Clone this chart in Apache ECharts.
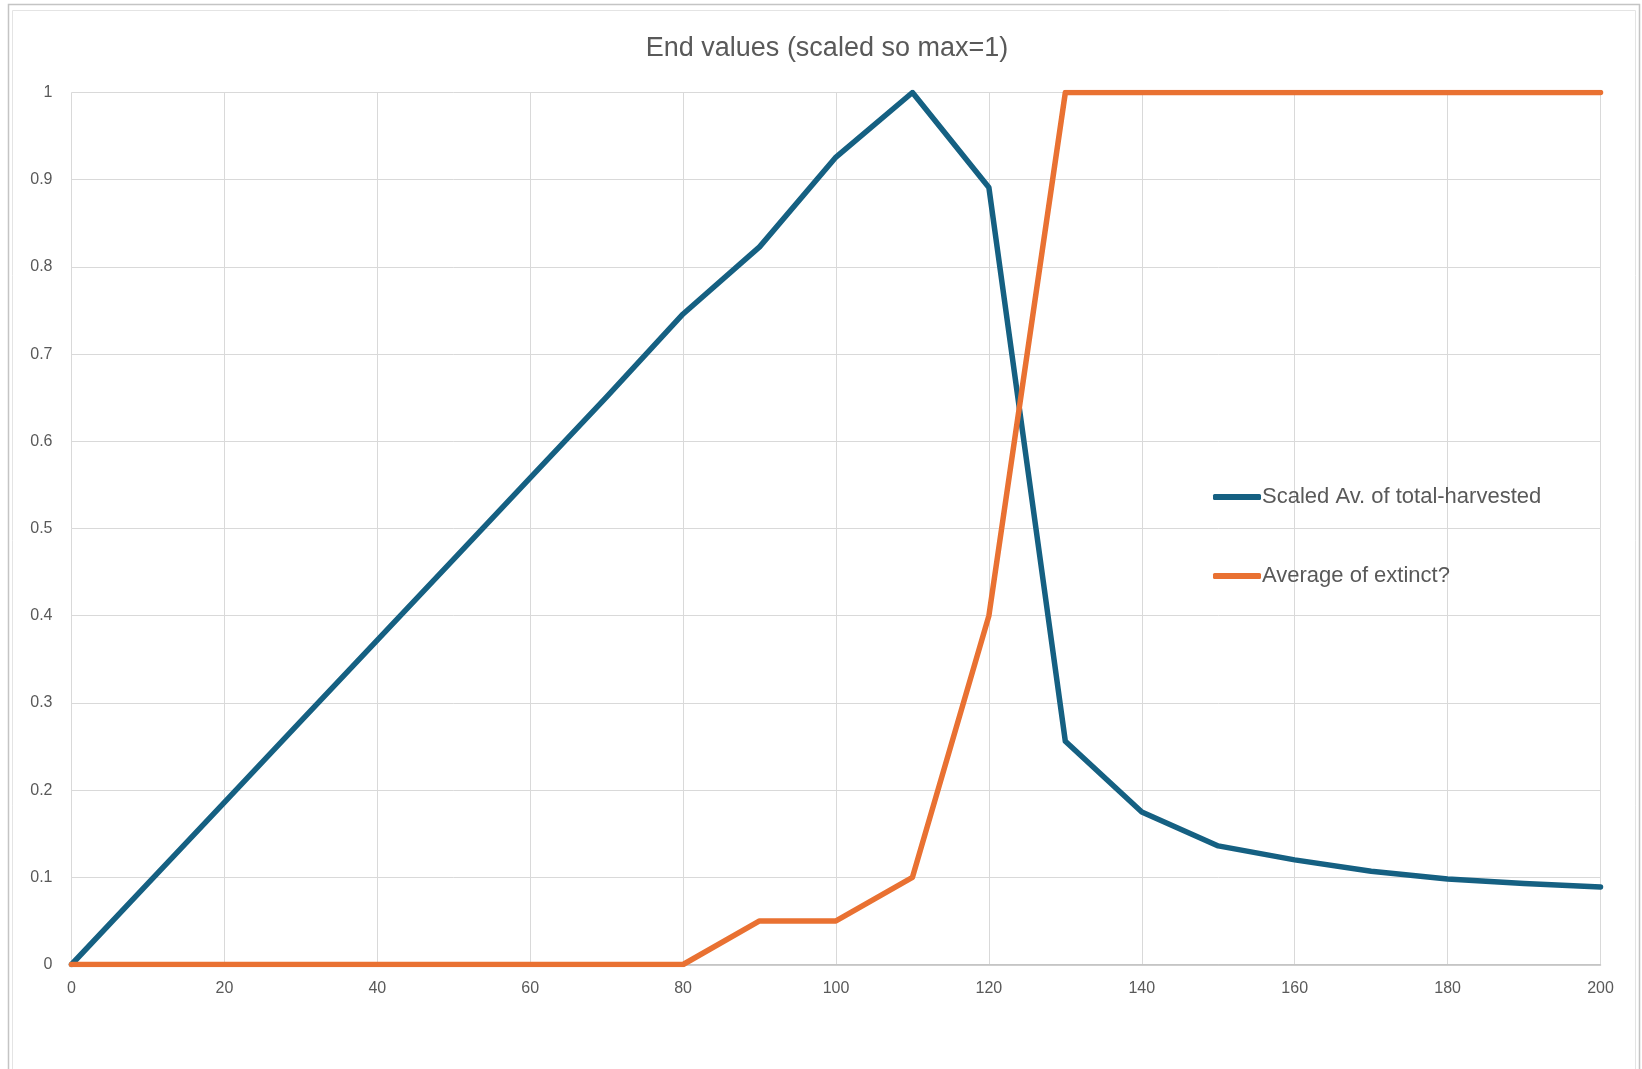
<!DOCTYPE html>
<html>
<head>
<meta charset="utf-8">
<script src="https://cdn.jsdelivr.net/npm/echarts@6/dist/echarts.min.js"></script>
<style>
html,body{margin:0;padding:0;background:#fff;}
#chart{width:1642px;height:1069px;}
</style>
</head>
<body>
<div id="chart"></div>
<script>
const chartTitle = 'End values (scaled so max=1)';
const seriesNames = ['Scaled Av. of total-harvested', 'Average of extinct?'];
const xValues = [0, 10, 20, 30, 40, 50, 60, 70, 80, 90, 100, 110, 120, 130, 140, 150, 160, 170, 180, 190, 200];
const harvestedValues = [0, 0.093, 0.186, 0.279, 0.372, 0.465, 0.558, 0.651, 0.746, 0.823, 0.926, 1.0, 0.891, 0.256, 0.175, 0.136, 0.120, 0.107, 0.098, 0.093, 0.089];
const extinctValues = [0, 0, 0, 0, 0, 0, 0, 0, 0, 0.05, 0.05, 0.1, 0.4, 1, 1, 1, 1, 1, 1, 1, 1];
const xTicks = { min: 0, max: 200, interval: 20 };
const yTicks = { min: 0, max: 1, interval: 0.1 };
const colors = ['#156082', '#E97132'];

const font = '"Liberation Sans", Arial, sans-serif';
const chart = echarts.init(document.getElementById('chart'), null, { renderer: 'canvas' });

const toPairs = (ys) => xValues.map((x, i) => [x, ys[i]]);

chart.setOption({
  animation: false,
  backgroundColor: '#ffffff',
  title: {
    text: chartTitle,
    left: 822,
    textAlign: 'center',
    top: 30,
    textStyle: { fontFamily: font, fontSize: 27, fontWeight: 'normal', color: '#595959' }
  },
  graphic: [
    { type: 'rect', shape: { x: 8.5, y: 4.5, width: 1631, height: 1100 }, style: { fill: 'none', stroke: '#c4c4c4', lineWidth: 1.5 }, silent: true },
    { type: 'rect', shape: { x: 12.5, y: 10.5, width: 1623, height: 1100 }, style: { fill: 'none', stroke: '#e4e4e4', lineWidth: 1 }, silent: true }
  ],
  legend: {
    orient: 'vertical',
    left: 1208,
    top: 480,
    itemGap: 55,
    itemWidth: 48,
    itemHeight: 6,
    icon: 'roundRect',
    textStyle: { fontFamily: font, fontSize: 22, color: '#595959', lineHeight: 24, padding: [0, 0, 0, -4] },
    data: seriesNames
  },
  grid: { left: 71.5, right: 41.5, top: 92.5, bottom: 104.5, containLabel: false },
  xAxis: {
    type: 'value',
    min: xTicks.min, max: xTicks.max, interval: xTicks.interval,
    axisLine: { show: true, lineStyle: { color: '#bfbfbf', width: 1.5 } },
    axisTick: { show: false },
    splitLine: { show: true, lineStyle: { color: '#d9d9d9', width: 1 } },
    axisLabel: { fontFamily: font, fontSize: 16, color: '#595959', margin: 16 }
  },
  yAxis: {
    type: 'value',
    min: yTicks.min, max: yTicks.max, interval: yTicks.interval,
    axisLine: { show: false },
    axisTick: { show: false },
    splitLine: { show: true, lineStyle: { color: '#d9d9d9', width: 1 } },
    axisLabel: { fontFamily: font, fontSize: 16, color: '#595959', margin: 19 }
  },
  series: [
    {
      name: seriesNames[0], type: 'line', data: toPairs(harvestedValues),
      showSymbol: false, symbol: 'none',
      lineStyle: { color: colors[0], width: 5.5, join: 'round', cap: 'round' },
      itemStyle: { color: colors[0] }
    },
    {
      name: seriesNames[1], type: 'line', data: toPairs(extinctValues),
      showSymbol: false, symbol: 'none',
      lineStyle: { color: colors[1], width: 5.5, join: 'round', cap: 'round' },
      itemStyle: { color: colors[1] }
    }
  ]
});
</script>
</body>
</html>
